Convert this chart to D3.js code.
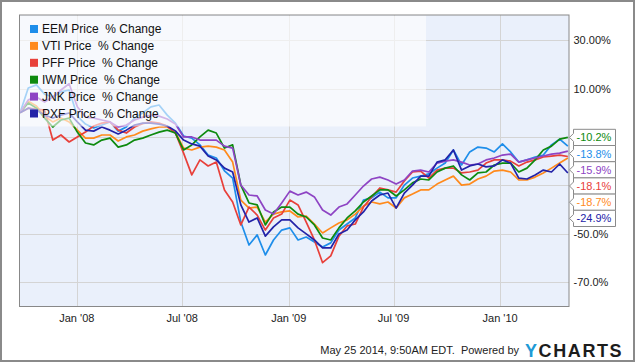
<!DOCTYPE html>
<html>
<head>
<meta charset="utf-8">
<script src="https://cdn.jsdelivr.net/npm/d3@7"></script>
<style>
  body { margin: 0; background: #fff; }
  svg { display: block; font-family: "Liberation Sans", Arial, sans-serif; }
</style>
</head>
<body>
<div class="chart-wrapper"></div>
<script>
// tickers and colours
const tickers = ['EEM', 'VTI', 'PFF', 'IWM', 'JNK', 'PXF'];
const colors = ['#1e8eea', '#ff8a1c', '#e8403a', '#0e8a0e', '#8e44c4', '#2323a8'];

// price % change, sampled every ~2 weeks from late Sep 2007 to late Apr 2010
const eem = [0, 10.2, 11.5, 7.7, 6.5, 8.6, 9.4, -1.4, -4.7, -6.3,
  -5.1, -3.8, -7.6, -5.9, -2.2, -0.1, 2.4, 3.2, -1.0, -4.3,
  -9.6, -10.5, -13.3, -17.5, -18.7, -24.0, -27.0, -45.2, -54.7, -50.5,
  -58.8, -52.6, -48.5, -47.6, -52.6, -51.4, -53.4, -55.5, -53.8, -48.5,
  -46.0, -43.5, -36.1, -35.2, -32.8, -35.2, -35.2, -29.9, -27.0, -26.2,
  -25.3, -22.9, -20.8, -15.4, -21.6, -16.2, -14.2, -14.6, -16.2, -12.9,
  -16.2, -20.4, -19.5, -18.3, -17.5, -13.3, -10.9, -13.8];
const vti = [0, 4.8, 2.8, -1.4, -3.8, -2.2, -3.8, -7.2, -10.5, -10.5,
  -9.2, -9.2, -11.7, -10.0, -9.2, -7.6, -6.7, -5.9, -5.9, -8.0,
  -14.6, -15.4, -14.2, -13.8, -14.2, -15.4, -20.4, -36.1, -39.4, -39.0,
  -45.2, -41.9, -41.0, -40.6, -43.1, -42.7, -46.0, -49.7, -47.6, -45.6,
  -44.3, -41.9, -38.6, -36.9, -37.7, -36.9, -39.4, -35.2, -33.6, -31.9,
  -31.9, -29.5, -27.8, -26.2, -29.9, -29.5, -27.4, -26.2, -24.1, -23.7,
  -24.5, -27.8, -27.8, -26.6, -24.9, -22.9, -20.8, -18.7];
const pff = [0, 1.9, 1.5, 1.1, -11.3, -9.2, -12.1, -10.0, -8.0, -5.5,
  -4.3, -3.8, -7.2, -8.4, -5.9, -4.5, -3.8, -4.3, -5.5, -8.5,
  -16.7, -25.7, -19.5, -22.0, -20.4, -31.9, -36.9, -46.4, -39.0, -42.3,
  -48.5, -43.5, -41.9, -36.1, -38.1, -45.2, -52.6, -62.0, -59.2, -51.0,
  -46.8, -46.0, -39.0, -34.8, -31.1, -31.9, -32.8, -28.2, -24.5, -24.1,
  -27.0, -23.7, -22.9, -22.9, -24.9, -24.5, -23.7, -20.8, -19.5, -19.5,
  -20.0, -22.0, -20.4, -19.5, -18.3, -17.9, -17.5, -18.1];
const iwm = [0, 4.0, 1.9, -2.2, -5.9, -3.0, -2.2, -8.0, -12.5, -13.3,
  -11.3, -10.5, -14.2, -13.3, -11.3, -10.5, -9.2, -8.0, -7.2, -8.4,
  -15.4, -13.3, -10.0, -7.2, -8.4, -14.6, -13.3, -29.9, -37.3, -38.1,
  -46.4, -41.0, -39.0, -39.0, -41.9, -43.1, -46.4, -51.8, -52.6, -47.6,
  -43.5, -40.6, -36.9, -34.4, -31.9, -31.9, -34.4, -31.9, -29.0, -27.4,
  -27.8, -24.5, -22.9, -22.0, -25.7, -27.8, -24.9, -24.5, -21.6, -20.8,
  -20.8, -24.5, -22.9, -19.5, -15.4, -13.8, -10.9, -10.2];
const jnk = [0, 5.3, 6.5, 4.4, 6.5, 9.4, 12.0, 2.5, -1.8, -2.2,
  -3.0, -3.8, -5.9, -5.1, -3.0, -1.8, -1.0, -1.4, -2.6, -4.7,
  -10.0, -10.0, -11.3, -11.3, -11.3, -13.8, -14.6, -29.9, -34.0, -34.4,
  -40.2, -41.9, -37.3, -32.4, -34.0, -32.8, -34.8, -40.2, -42.3, -39.0,
  -37.7, -34.0, -30.3, -27.4, -26.6, -27.8, -29.5, -27.8, -24.1, -23.7,
  -24.5, -20.8, -20.0, -19.5, -20.4, -21.6, -21.2, -19.5, -18.7, -17.5,
  -17.1, -20.4, -19.5, -18.7, -17.9, -17.1, -16.7, -15.9];
const pxf = [0, 1.9, 1.1, -1.0, -2.2, -1.0, -0.1, -3.8, -7.2, -7.6,
  -5.9, -7.2, -8.8, -7.2, -5.1, -4.3, -4.3, -4.7, -5.5, -7.5,
  -11.3, -12.9, -13.8, -17.9, -19.5, -22.9, -24.5, -38.1, -45.2, -43.5,
  -51.0, -47.2, -44.3, -44.3, -47.6, -50.1, -52.6, -55.9, -55.9, -50.1,
  -48.5, -44.3, -41.0, -36.5, -34.0, -33.2, -39.4, -33.2, -29.9, -26.2,
  -26.2, -20.4, -19.5, -15.4, -23.7, -22.0, -21.2, -22.4, -22.0, -19.5,
  -20.8, -27.0, -27.4, -25.7, -23.7, -24.5, -21.2, -24.9];

// gridlines at every tick; the -10 and -30 labels sit under the value tags, so they are left blank
const yTicks = [30, 10, -10, -30, -50, -70];
const yTickLabels = ['30.00%', '10.00%', '', '', '-50.0%', '-70.0%'];

const allSeries = [eem, vti, pff, iwm, jnk, pxf];
const startDate = new Date(2007, 8, 25);
const endDate = new Date(2010, 3, 28);
const n = eem.length;
const dates = d3.range(n).map(i => new Date(+startDate + i * (endDate - startDate) / (n - 1)));

const width = 635, height = 362;
const plot = {left: 19.5, right: 569, top: 15, bottom: 306.5};

const svg = d3.select('.chart-wrapper')
.append('svg')
.attr('width', width)
.attr('height', height);

svg.append('rect')
.attr('x', 1).attr('y', 1)
.attr('width', width - 2).attr('height', height - 2)
.attr('fill', '#fff')
.attr('stroke', '#8a8a8a')
.attr('stroke-width', 2);

let x = d3.scaleTime()
.domain([new Date(2007, 8, 24), new Date(2010, 3, 30)])
.range([plot.left, plot.right]);

let y = d3.scaleLinear()
.domain([-80.1, 40.4])
.range([plot.bottom, plot.top]);

svg.append('rect')
.attr('x', plot.left).attr('y', plot.top)
.attr('width', plot.right - plot.left).attr('height', plot.bottom - plot.top)
.attr('fill', '#eaf0fb');

const xTicks = x.ticks(d3.timeMonth.every(6));

// grid
const grid = svg.append('g').attr('stroke', '#d4d4d4').attr('stroke-width', 1);
grid.selectAll('.hg')
.data(yTicks)
.enter()
.append('line')
.attr('x1', plot.left).attr('x2', plot.right)
.attr('y1', d => Math.round(y(d)) + 0.5)
.attr('y2', d => Math.round(y(d)) + 0.5);
grid.selectAll('.vg')
.data(xTicks)
.enter()
.append('line')
.attr('y1', plot.top).attr('y2', plot.bottom)
.attr('x1', d => Math.round(x(d)) + 0.5)
.attr('x2', d => Math.round(x(d)) + 0.5);

// lines
let line = d3.line()
.x((d, i) => x(dates[i]))
.y(d => y(d));

svg.append('g')
.selectAll('path')
.data(allSeries)
.enter()
.append('path')
.attr('d', line)
.attr('fill', 'none')
.attr('stroke', (d, i) => colors[i])
.attr('stroke-width', 1.7)
.attr('stroke-linejoin', 'round');

// legend
const legend = svg.append('g');
legend.append('rect')
.attr('x', plot.left + 0.5).attr('y', plot.top + 0.5)
.attr('width', 406).attr('height', 111)
.attr('fill', '#fff')
.attr('fill-opacity', 0.6);

const rows = legend.selectAll('.row')
.data(tickers)
.enter()
.append('g')
.attr('transform', (d, i) => `translate(30, ${29 + i * 16.9})`);

rows.append('rect')
.attr('x', 0).attr('y', -4)
.attr('width', 8).attr('height', 8)
.attr('fill', (d, i) => colors[i]);

rows.append('text')
.attr('x', 12)
.attr('dy', '0.36em')
.style('font-size', '12px')
.style('white-space', 'pre')
.attr('fill', '#111')
.text(d => d + ' Price  % Change');

// plot border
svg.append('rect')
.attr('x', plot.left).attr('y', plot.top)
.attr('width', plot.right - plot.left).attr('height', plot.bottom - plot.top)
.attr('fill', 'none')
.attr('stroke', '#888')
.attr('stroke-width', 1);

// axis labels
svg.append('g')
.selectAll('text')
.data(yTicks.filter((d, i) => yTickLabels[i] !== ''))
.enter()
.append('text')
.attr('x', 573.5)
.attr('y', d => y(d))
.attr('dy', '0.36em')
.style('font-size', '11px')
.attr('fill', '#222')
.text(d => yTickLabels[yTicks.indexOf(d)]);

svg.append('g')
.selectAll('text')
.data(xTicks)
.enter()
.append('text')
.attr('x', d => x(d))
.attr('y', 322)
.attr('text-anchor', 'middle')
.style('font-size', '11px')
.attr('fill', '#222')
.text(d => d3.timeFormat("%b '%y")(d));

// end value labels
let ends = allSeries.map((s, i) => ({value: s[s.length - 1], color: colors[i]}))
.sort((a, b) => b.value - a.value);
const boxH = 16.2, boxX = 573.5, boxW = 42;
let prev = -Infinity;
ends.forEach(e => {
    e.cy = Math.max(y(e.value), prev + boxH);
    prev = e.cy;
});

const tags = svg.append('g')
.selectAll('g')
.data(ends)
.enter()
.append('g');

tags.append('path')
.attr('d', d => {
    const t = d.cy - boxH / 2, b = d.cy + boxH / 2;
    return `M${boxX},${t}H${boxX + boxW}V${b}H${boxX}V${d.cy + 4}L${boxX - 4},${d.cy}L${boxX},${d.cy - 4}Z`;
})
.attr('fill', '#fff')
.attr('stroke', '#8a8a8a')
.attr('stroke-width', 1);

tags.append('text')
.attr('x', boxX + 3)
.attr('y', d => d.cy)
.attr('dy', '0.36em')
.style('font-size', '11px')
.attr('fill', d => d.color)
.text(d => d.value.toFixed(1) + '%');

// footer
svg.append('text')
.attr('x', 519)
.attr('y', 354)
.attr('text-anchor', 'end')
.style('font-size', '11px')
.style('white-space', 'pre')
.attr('fill', '#222')
.text('May 25 2014, 9:50AM EDT.  Powered by');

const logo = svg.append('text')
.attr('x', 525)
.attr('y', 357)
.style('font-size', '18px')
.style('font-weight', 'bold')
.style('letter-spacing', '1.6px');
logo.append('tspan').attr('fill', '#1e9ad6').text('Y');
logo.append('tspan').attr('fill', '#1c1c1c').text('CHARTS');
</script>
</body>
</html>
